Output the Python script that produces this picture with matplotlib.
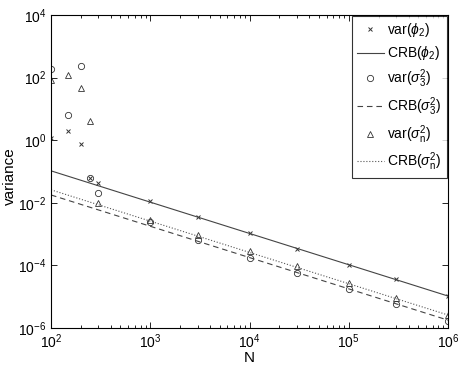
import matplotlib
matplotlib.use("Agg")
import matplotlib.pyplot as plt
from matplotlib.ticker import LogLocator, FixedLocator, NullLocator

plt.rcParams['font.family'] = ['Liberation Sans', 'DejaVu Sans']
plt.rcParams['mathtext.fontset'] = 'custom'
plt.rcParams['mathtext.rm'] = 'Liberation Sans'
plt.rcParams['mathtext.it'] = 'Liberation Sans:italic'

# Sample sizes
N = [100, 150, 200, 250, 300, 1e3, 3e3, 1e4, 3e4, 1e5, 3e5, 1e6]
var_phi2 = [1.2, 1.9, 0.75, 0.063, 0.043, 0.0117, 0.0036, 1.1e-3, 3.4e-4, 1.05e-4, 3.7e-5, 1.07e-5]
var_s3 = [185, 6.6, 230, 0.063, 0.021, 0.0024, 6.4e-4, 1.7e-4, 5.8e-5, 1.7e-5, 5.9e-6, 1.7e-6]
var_sn = [83, 123, 46, 4.2, 0.0096, 0.0028, 9.3e-4, 2.9e-4, 9.6e-5, 2.8e-5, 9.3e-6, 2.6e-6]

N_crb = [100, 1e3, 1e4, 1e5, 1e6]
crb_phi2 = [0.105, 0.0105, 1.05e-3, 1.05e-4, 1.05e-5]
crb_s3 = [0.0178, 1.78e-3, 1.78e-4, 1.78e-5, 1.78e-6]
crb_sn = [0.026, 2.6e-3, 2.6e-4, 2.6e-5, 2.6e-6]

labels = [r'var($\phi_2$)', r'CRB($\phi_2$)', r'var($\sigma_3^2$)',
          r'CRB($\sigma_3^2$)', r'var($\sigma_\mathrm{n}^2$)', r'CRB($\sigma_\mathrm{n}^2$)']

fig = plt.figure(figsize=(4.63, 3.70), dpi=100)
ax = fig.add_axes([51/463, 1-328/370, (448-51)/463, (328-15)/370])

c = '#333333'
h1, = ax.plot(N, var_phi2, linestyle='none', marker='x', ms=3.5, mew=0.7, color=c)
h2, = ax.plot(N_crb, crb_phi2, '-', lw=0.8, color='#444444')
h3, = ax.plot(N, var_s3, linestyle='none', marker='o', ms=4.5, mew=0.6, mfc='none', color=c)
h4, = ax.plot(N_crb, crb_s3, '--', lw=0.8, color='#444444', dashes=(5, 3.5))
h5, = ax.plot(N, var_sn, linestyle='none', marker='^', ms=5, mew=0.6, mfc='none', color=c)
h6, = ax.plot(N_crb, crb_sn, ':', lw=0.8, color='#555555')

ax.set_xscale('log')
ax.set_yscale('log')
ax.set_xlim(1e2, 1e6)
ax.set_ylim(1e-6, 1e4)
ax.xaxis.set_major_locator(FixedLocator([1e2, 1e3, 1e4, 1e5, 1e6]))
ax.xaxis.set_minor_locator(LogLocator(base=10, subs=range(2, 10)))
ax.yaxis.set_major_locator(FixedLocator([1e-6, 1e-4, 1e-2, 1e0, 1e2, 1e4]))
ax.yaxis.set_minor_locator(NullLocator())
ax.tick_params(which='both', direction='in', top=True, right=True, labelsize=10, width=0.6)
ax.tick_params(which='major', length=4)
ax.tick_params(which='minor', length=2)
for s in ax.spines.values():
    s.set_linewidth(0.8)

ax.set_xlabel('N', fontsize=11, labelpad=0)
ax.set_ylabel('variance', fontsize=11)
ax.yaxis.set_label_coords(-0.086, 0.486)

leg = ax.legend([h1, h2, h3, h4, h5, h6], labels, loc='upper right',
                bbox_to_anchor=(1.0, 1.0), borderaxespad=0.1, fontsize=10,
                frameon=True, fancybox=False, edgecolor='black',
                handlelength=1.95, handletextpad=0.25, labelspacing=0.37,
                borderpad=0.35, markerfirst=True)
leg.get_frame().set_linewidth(0.8)

fig.savefig('out.png', dpi=100)
